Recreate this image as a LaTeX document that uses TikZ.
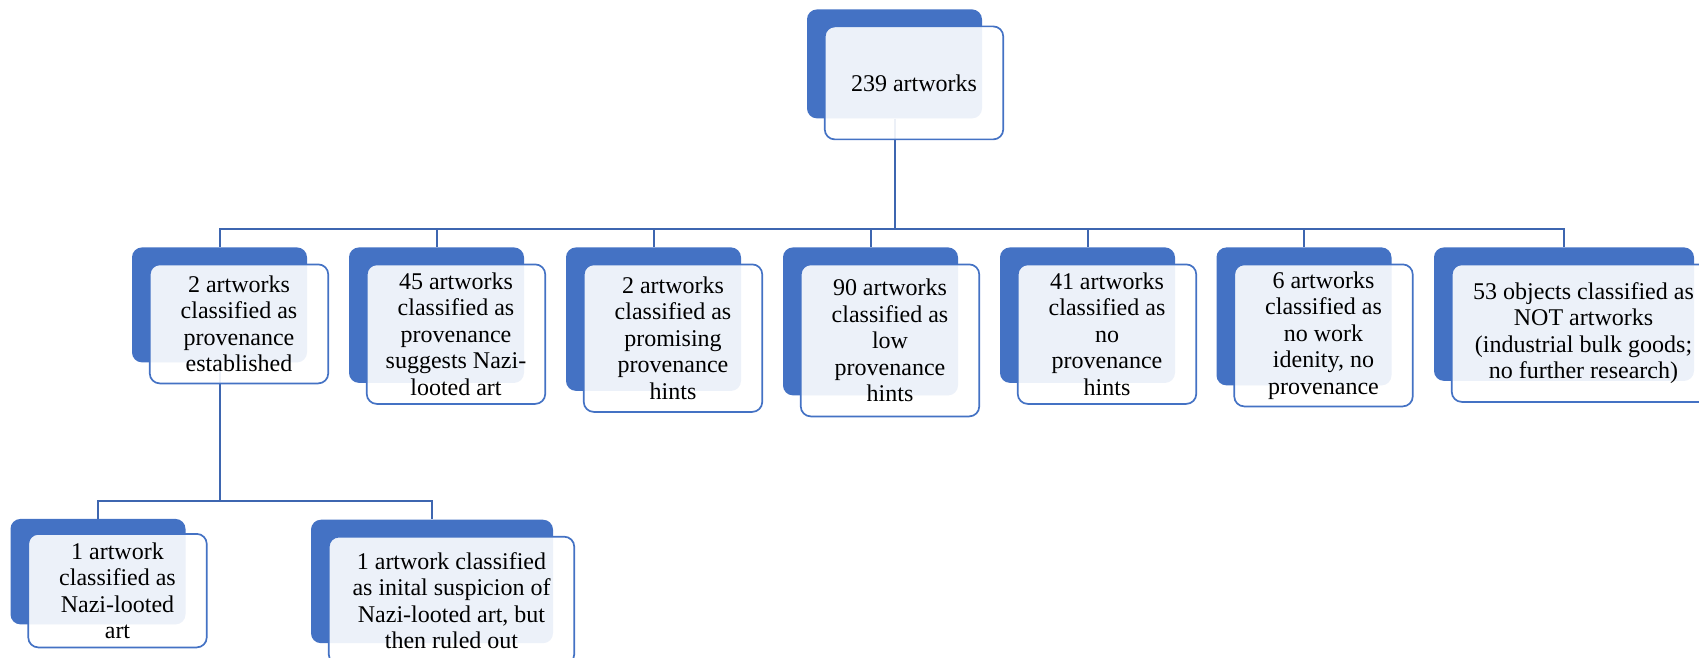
\documentclass[tikz,border=0pt]{standalone}
\usepackage{fontspec}
\setmainfont{Liberation Serif}
\definecolor{boxblue}{HTML}{4472C4}
\definecolor{linkblue}{HTML}{3E66B0}

\begin{document}
\begin{tikzpicture}[x=0.5pt,y=-0.5pt]
    \tikzset{
      back/.style={rectangle,rounded corners=5pt,fill=boxblue,inner sep=0pt,minimum width=87.5pt,anchor=north},
      front/.style={rectangle,rounded corners=5pt,draw=boxblue,line width=0.85pt,fill=white,fill opacity=0.9,text opacity=1,
        align=center,inner sep=2pt,minimum width=89.25pt,font=\fontsize{12}{13.25}\selectfont},
      link/.style={draw=linkblue,line width=1pt}
    }
    \useasboundingbox (0,0) rectangle (1699,658);
    \node[back,minimum height=54.5pt] (top) at (894.5,9) {};
    \node[back,minimum height=57.5pt] (b1) at (219.5,247) {};
    \node[back,minimum height=67.75pt] (b2) at (436.5,247) {};
    \node[back,minimum height=71.75pt] (b3) at (653.5,247) {};
    \node[back,minimum height=74pt] (b4) at (870.5,247) {};
    \node[back,minimum height=67.75pt] (b5) at (1087.5,247) {};
    \node[back,minimum height=69pt] (b6) at (1304,247) {};
    \node[back,minimum width=130pt,minimum height=66.75pt] (b7) at (1564,247) {};
    \node[back,minimum height=52.75pt] (c1) at (98,518.5) {};
    \node[back,minimum width=121pt,minimum height=61.75pt] (c2) at (432,519.3) {};
    \coordinate (bus) at (894.5,229);
    \coordinate (bus2) at (219.5,500.7);
    \foreach \n in {b1,b2,b3,b4,b5,b6,b7}
      \draw[link] (top.south) -- (bus) -| (\n.north);
    \foreach \n in {c1,c2}
      \draw[link] (b1.south) -- (bus2) -| (\n.north);
    \node[front,minimum height=56.5pt] (ttop) at ([shift={(19.5,19)}]top.center) {239 artworks};
    \node[front,minimum height=59.5pt] (t1) at ([shift={(19.5,19)}]b1.center) {2 artworks\\ classified as\\ provenance\\ established};
    \node[front,minimum height=69.75pt] (t2) at ([shift={(19.5,19)}]b2.center) {45 artworks\\ classified as\\ provenance\\ suggests Nazi-\\ looted art};
    \node[front,minimum height=73.75pt] (t3) at ([shift={(19.5,19)}]b3.center) {2 artworks\\ classified as\\ promising\\ provenance\\ hints};
    \node[front,minimum height=76pt] (t4) at ([shift={(19.5,19)}]b4.center) {90 artworks\\ classified as\\ low\\ provenance\\ hints};
    \node[front,minimum height=69.75pt] (t5) at ([shift={(19.5,19)}]b5.center) {41 artworks\\ classified as\\ no\\ provenance\\ hints};
    \node[front,minimum height=71pt] (t6) at ([shift={(19.5,19)}]b6.center) {6 artworks\\ classified as\\ no work\\ idenity, no\\ provenance};
    \node[front,minimum width=131.75pt,minimum height=68.75pt] (t7) at ([shift={(19.5,19)}]b7.center) {53 objects classified as\\ NOT artworks\\ (industrial bulk goods;\\ no further research)};
    \node[front,minimum height=56.75pt] (s1) at ([shift={(19.5,19)}]c1.center) {1 artwork\\ classified as\\ Nazi-looted\\ art};
    \node[front,minimum width=122.75pt,minimum height=63.75pt] (s2) at ([shift={(19.5,19)}]c2.center) {1 artwork classified\\ as inital suspicion of\\ Nazi-looted art, but\\ then ruled out};
\end{tikzpicture}
\end{document}
